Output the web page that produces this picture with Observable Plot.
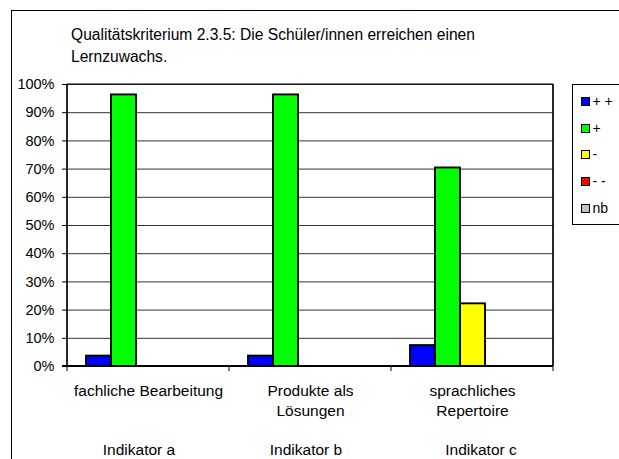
<!DOCTYPE html>
<html>
<head>
<meta charset="utf-8">
<script src="https://cdn.jsdelivr.net/npm/d3@7"></script>
<script src="https://cdn.jsdelivr.net/npm/@observablehq/plot@0.6"></script>
<style>
  html, body { margin: 0; padding: 0; width: 619px; height: 459px; overflow: hidden; background: #fff; }
  #stage { position: absolute; left: 0; top: 0; width: 619px; height: 459px;
           font-family: "Liberation Sans", Arial, sans-serif; color: #000; }
  #outer { position: absolute; left: 11px; top: 10px; width: 700px; height: 700px; border: 1px solid #000; box-sizing: border-box; }
  #title { position: absolute; left: 71px; top: 24.2px; font-size: 15.6px; line-height: 22px; white-space: nowrap; }
  #chart { position: absolute; left: 0; top: 0; }
  #legend { position: absolute; left: 572px; top: 84px; width: 200px; height: 141px; border: 1px solid #000; box-sizing: border-box; background: #fff; }
  .row { position: absolute; left: 0; height: 16px; white-space: nowrap; }
  .sw { position: absolute; left: 8px; top: 4px; width: 9px; height: 9px; border: 1.5px solid #000; box-sizing: border-box; }
  .lab { position: absolute; left: 19.5px; top: 0; font-size: 14px; line-height: 16px; }
  .ind { position: absolute; top: 441.3px; font-size: 15.5px; line-height: 18px; white-space: nowrap; transform: translateX(-50%); }
</style>
</head>
<body>
<div id="stage">
  <div id="outer"></div>
  <div id="title"></div>
  <div id="chart"></div>
  <div id="legend"></div>
</div>
<script>
// ---- data ----
const titleLines = ["Qualitätskriterium 2.3.5: Die Schüler/innen erreichen einen", "Lernzuwachs."];
const categories = ["fachliche Bearbeitung", "Produkte als\nLösungen", "sprachliches\nRepertoire"];
const indicators = ["Indikator a", "Indikator b", "Indikator c"];
const series = ["+ +", "+", "-", "- -", "nb"];
const colors = ["#0000FF", "#00FF00", "#FFFF00", "#FF0000", "#C0C0C0"];
const valuesPP = [3.7, 3.7, 7.4];
const valuesP  = [96.3, 96.3, 70.4];
const valuesM  = [0, 0, 22.2];
const valuesMM = [0, 0, 0];
const valuesNB = [0, 0, 0];
const yTicks = [0, 10, 20, 30, 40, 50, 60, 70, 80, 90, 100];

// ---- build table ----
const seriesValues = [valuesPP, valuesP, valuesM, valuesMM, valuesNB];
const data = [];
categories.forEach((c, i) => series.forEach((s, j) => data.push({category: c, series: s, value: seriesValues[j][i]})));

const W = 619, H = 459;
const plot = Plot.plot({
  width: W, height: H,
  marginLeft: 67, marginRight: 66, marginTop: 84, marginBottom: H - 366,
  style: {fontFamily: "'Liberation Sans', Arial, sans-serif", fontSize: "15px", background: "transparent", overflow: "visible", color: "#000"},
  fx: {domain: categories, padding: 0, label: null},
  x: {domain: series, paddingInner: 0, paddingOuter: 0.7, axis: null},
  y: {domain: [0, 100], label: null},
  color: {domain: series, range: colors},
  marks: [
    Plot.gridY(yTicks, {stroke: "#333", strokeOpacity: 1, strokeWidth: 1}),
    Plot.axisY(yTicks, {tickSize: 5, tickPadding: 8, tickFormat: d => d + "%", label: null, fontSize: 14.5, stroke: "#000"}),
    Plot.axisFx({anchor: "bottom", tickSize: 0, tickPadding: 15.7, lineHeight: 1.29, label: null, fontSize: 15.5}),
    Plot.barY(data, {fx: "category", x: "series", y: "value", fill: "series", stroke: "black", strokeWidth: 1.5, filter: d => d.value > 0})
  ]
});
document.getElementById("chart").appendChild(plot);

const svg = d3.select(plot);

// outline every rendered bar (geometry taken from Plot's own rects)
const svgBox = plot.getBoundingClientRect();
const outlines = svg.append("g").attr("fill", "none").attr("stroke", "#000").attr("stroke-width", 1.5);
plot.querySelectorAll('g[aria-label="bar"] rect').forEach(r => {
  const b = r.getBoundingClientRect();
  outlines.append("rect").attr("x", b.left - svgBox.left).attr("y", b.top - svgBox.top)
    .attr("width", b.width).attr("height", b.height);
});

// plot frame and category boundary ticks, positioned with the plot's own scales
const fx = plot.scale("fx"), ys = plot.scale("y");
const bw = fx.bandwidth;
const x0 = fx.apply(categories[0]), x1 = fx.apply(categories[categories.length - 1]) + bw;
const yTop = ys.apply(100), yBot = ys.apply(0);
const g = svg.append("g").attr("stroke", "#000").attr("fill", "none");
g.append("line").attr("x1", x0).attr("x2", x1).attr("y1", yTop).attr("y2", yTop).attr("stroke-width", 1);
g.append("line").attr("x1", x0).attr("x2", x0).attr("y1", yTop).attr("y2", yBot).attr("stroke-width", 1.7);
g.append("line").attr("x1", x1).attr("x2", x1).attr("y1", yTop).attr("y2", yBot).attr("stroke-width", 1.7);
g.append("line").attr("x1", x0 - 5).attr("x2", x1).attr("y1", yBot).attr("y2", yBot).attr("stroke-width", 2);
const bounds = categories.map(c => fx.apply(c)).concat([x1]);
bounds.forEach(b => g.append("line").attr("x1", b).attr("x2", b).attr("y1", yBot).attr("y2", yBot + 5).attr("stroke-width", 1));

// title
document.getElementById("title").innerHTML = titleLines.join("<br>");

// indicator labels (below the category labels)
const indCenters = [139, 306, 481];
const stage = document.getElementById("stage");
indicators.forEach((t, i) => {
  const d = document.createElement("div");
  d.className = "ind"; d.textContent = t; d.style.left = indCenters[i] + "px";
  stage.appendChild(d);
});

// legend
const color = plot.scale("color");
const legend = document.getElementById("legend");
const rowCenters = [101, 128, 154, 181, 208];
series.forEach((s, i) => {
  const r = document.createElement("div");
  r.className = "row"; r.style.top = (rowCenters[i] - 84 - 8 - 1) + "px";
  const sw = document.createElement("div"); sw.className = "sw"; sw.style.background = color.apply(s);
  const lb = document.createElement("div"); lb.className = "lab"; lb.textContent = s;
  r.appendChild(sw); r.appendChild(lb); legend.appendChild(r);
});
</script>
</body>
</html>
